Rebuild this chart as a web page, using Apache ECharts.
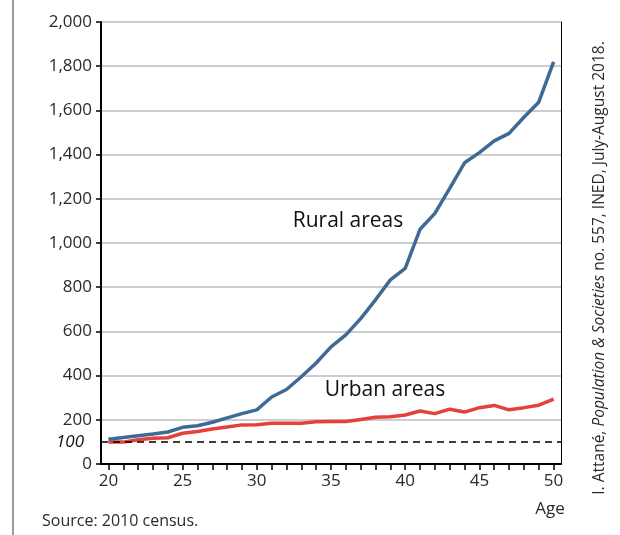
<!DOCTYPE html>
<html><head><meta charset="utf-8">
<script src="https://cdn.jsdelivr.net/npm/echarts@6/dist/echarts.min.js"></script>
<style>html,body{margin:0;padding:0;background:#fff}#c{width:620px;height:535px}</style>
</head><body><div id="c"></div>
<script>
var ages = [20,21,22,23,24,25,26,27,28,29,30,31,32,33,34,35,36,37,38,39,40,41,42,43,44,45,46,47,48,49,50];
var rural = [112,120,128,136,145,166,173,189,209,228,245,303,337,395,457,530,584,658,743,833,885,1062,1134,1247,1363,1409,1462,1496,1569,1637,1820];
var urban = [100,99,110,116,119,139,147,158,167,177,178,184,184,184,191,192,192,201,212,214,222,240,228,248,235,255,265,245,255,266,294];
var xTickLabels = [20,25,30,35,40,45,50];
var yTickLabels = [0,100,200,400,600,800,1000,1200,1400,1600,1800,2000];
var refLevel = 100;

var font = '"Open Sans", "Noto Sans", sans-serif';
function pairs(v){ return ages.map(function(a,i){ return [a, v[i]]; }); }
var chart = echarts.init(document.getElementById('c'), null, {renderer:'canvas'});
chart.setOption({
  animation:false,
  grid:{left:101,right:59,top:22,bottom:71,containLabel:false},
  xAxis:[{
    type:'value', min:19.5, max:50.5,
    axisLine:{show:true,onZero:false,lineStyle:{color:'#000',width:2}},
    axisTick:{show:true,length:6,lineStyle:{color:'#000',width:1.5},customValues:ages},
    axisLabel:{customValues:xTickLabels,color:'#2a2a2a',fontSize:17,fontFamily:font,margin:9},
    splitLine:{show:false}
  },{
    type:'value', min:19.5, max:50.5, position:'top',
    axisLine:{show:true,lineStyle:{color:'#000',width:1}},
    axisTick:{show:false},axisLabel:{show:false},splitLine:{show:false}
  }],
  yAxis:[{
    type:'value', min:0, max:2000, interval:200,
    axisLine:{show:true,lineStyle:{color:'#000',width:2}},
    axisTick:{show:true,length:5,inside:false,lineStyle:{color:'#000',width:1.5}},
    axisLabel:{customValues:yTickLabels,color:'#2a2a2a',fontSize:17,fontFamily:font,margin:9,
      formatter:function(v){ if(v===refLevel) return '{i|100}'; return echarts.format.addCommas(v); },
      rich:{i:{fontStyle:'italic',color:'#111',fontSize:17,fontFamily:font,padding:[0,8,0,0]}}},
    splitLine:{show:true,lineStyle:{color:'#bdbdbd',width:1.5}}
  },{
    type:'value', min:0, max:2000, position:'right',
    axisLine:{show:true,lineStyle:{color:'#000',width:1}},
    axisTick:{show:false},axisLabel:{show:false},splitLine:{show:false}
  }],
  series:[{
    type:'line', name:'Urban areas', data:pairs(urban), symbol:'none',
    lineStyle:{color:'#e5403a',width:3.5}, z:3,
    markLine:{silent:true,symbol:['none','none'],label:{show:false},
      lineStyle:{color:'#000',type:[7,5],width:1.5},data:[{yAxis:refLevel}]}
  },{
    type:'line', name:'Rural areas', data:pairs(rural), symbol:'none',
    lineStyle:{color:'#3e6b96',width:3.5}, z:4
  }],
  graphic:[
    {type:'line',shape:{x1:13,y1:0,x2:13,y2:535},style:{stroke:'#777',lineWidth:1.5}},
    {type:'text',x:348,y:221,style:{text:'Rural areas',font:'21px '+font,fill:'#111',align:'center',verticalAlign:'middle'}},
    {type:'text',x:385,y:390,style:{text:'Urban areas',font:'21px '+font,fill:'#111',align:'center',verticalAlign:'middle'}},
    {type:'text',x:550,y:509,style:{text:'Age',font:'17px '+font,fill:'#2a2a2a',align:'center',verticalAlign:'middle'}},
    {type:'text',x:42,y:521,style:{text:'Source: 2010 census.',font:'16px '+font,fill:'#2a2a2a',align:'left',verticalAlign:'middle'}},
    {type:'text',x:600,y:268,rotation:Math.PI/2,style:{
      text:'I. Attané, {i|Population & Societies} no. 557, INED, July-August 2018.',
      font:'15.5px '+font,fill:'#2a2a2a',align:'center',verticalAlign:'middle',
      rich:{i:{fontStyle:'italic',fontSize:15.5,fontFamily:font,fill:'#2a2a2a'}}}}
  ]
});
</script></body></html>
